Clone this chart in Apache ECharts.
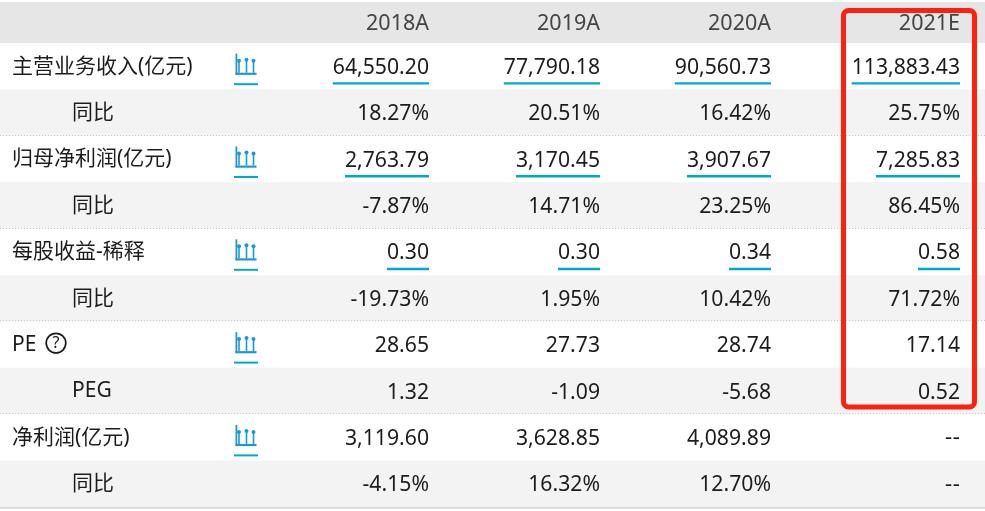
<!DOCTYPE html>
<html>
<head>
<meta charset="utf-8">
<style>
html,body{margin:0;padding:0;background:#fff}
#main{width:985px;height:511px}
</style>
<script src="https://cdn.jsdelivr.net/npm/echarts@6/dist/echarts.min.js"></script>
</head>
<body>
<div id="main"></div>
<script>
var years = ['2018A', '2019A', '2020A', '2021E'];
var rowLabels = ['主营业务收入(亿元)', '同比', '归母净利润(亿元)', '同比', '每股收益-稀释', '同比', 'PE', 'PEG', '净利润(亿元)', '同比'];

var revenue = [64550.20, 77790.18, 90560.73, 113883.43];
var revenueYoy = [18.27, 20.51, 16.42, 25.75];
var parentProfit = [2763.79, 3170.45, 3907.67, 7285.83];
var parentProfitYoy = [-7.87, 14.71, 23.25, 86.45];
var eps = [0.30, 0.30, 0.34, 0.58];
var epsYoy = [-19.73, 1.95, 10.42, 71.72];
var pe = [28.65, 27.73, 28.74, 17.14];
var peg = [1.32, -1.09, -5.68, 0.52];
var netProfit = [3119.60, 3628.85, 4089.89, null];
var netProfitYoy = [-4.15, 16.32, 12.70, null];

var rowValues = [revenue, revenueYoy, parentProfit, parentProfitYoy, eps, epsYoy, pe, peg, netProfit, netProfitYoy];
var percentRows = [1, 3, 5, 9];
var underlinedRows = [0, 2, 4];
var iconRows = [0, 2, 4, 6, 8];
var subRows = [1, 3, 5, 7, 9];

// layout, in x axis units (axis runs 0-985 across the page)
var colRight = [429, 600, 771, 960];
var labelX = 12, subLabelX = 72, iconX = 246;

var FONT = '"Noto Sans","Noto Sans CJK SC",sans-serif';
var TEAL = '#00a9c6', ICON = '#1b98d5';
var TEXT = '#1c1c1c';

function fmt(v, row) {
    if (v === null) return '--';
    var s = echarts.format.addCommas(v.toFixed(2));
    return percentRows.indexOf(row) >= 0 ? s + '%' : s;
}

var cells = [];
rowValues.forEach(function (vals, r) {
    vals.forEach(function (v, c) {
        cells.push({ value: [colRight[c], r], text: fmt(v, r), line: underlinedRows.indexOf(r) >= 0 });
    });
});
var labels = rowLabels.map(function (t, r) {
    return { value: [subRows.indexOf(r) >= 0 ? subLabelX : labelX, r], text: t };
});

function renderBand(params, api) {
    var r = api.value(1);
    var p = api.coord([0, r]), h = api.size([0, 1])[1];
    var kids = [];
    var top = p[1] - h / 2, bot = p[1] + h / 2;
    if (r % 2 === 1) {
        kids.push({ type: 'rect', shape: { x: 0, y: top, width: 985, height: h }, style: { fill: '#f3f3f3' } });
        if (r < 9) {
            kids.push({ type: 'line', shape: { x1: 0, y1: Math.round(bot) - 0.5, x2: 985, y2: Math.round(bot) - 0.5 },
                style: { stroke: '#c8c8c8', lineWidth: 1, lineDash: [1, 2] } });
        }
    }
    return { type: 'group', children: kids };
}

function renderCell(params, api) {
    var cell = cells[params.dataIndex];
    var p = api.coord([api.value(0), api.value(1)]);
    // the dashes of an empty cell are wider in the reference, DejaVu is closest
    var font = cell.text === '--' ? '21px "DejaVu Sans"' : '21.2px ' + FONT;
    var kids = [{ type: 'text', x: p[0], y: p[1] + 1.5,
        style: { text: cell.text, fill: TEXT, font: font, textAlign: 'right', textVerticalAlign: 'middle' } }];
    if (cell.line) {
        var w = echarts.format.getTextRect(cell.text, font).width;
        kids.push({ type: 'rect', shape: { x: p[0] - w, y: p[1] + 16, width: w, height: 2.4 }, style: { fill: TEAL } });
    }
    return { type: 'group', children: kids };
}

function renderLabel(params, api) {
    var item = labels[params.dataIndex];
    var p = api.coord([api.value(0), api.value(1)]);
    var kids = [{ type: 'text', x: p[0], y: p[1] + 0.5,
        style: { text: item.text, fill: TEXT, font: '21px ' + FONT, textAlign: 'left', textVerticalAlign: 'middle' } }];
    if (item.text === 'PE') {
        kids.push({ type: 'circle', shape: { cx: p[0] + 44, cy: p[1] - 1.5, r: 9.8 }, style: { fill: 'none', stroke: TEXT, lineWidth: 1.7 } });
        kids.push({ type: 'text', x: p[0] + 44, y: p[1] - 1,
            style: { text: '?', fill: TEXT, font: '16px ' + FONT, textAlign: 'center', textVerticalAlign: 'middle' } });
    }
    return { type: 'group', children: kids };
}

// small lollipop chart icon with a teal rule under it
function renderIcon(params, api) {
    var p = api.coord([api.value(0), api.value(1)]);
    var x = p[0], y = p[1];
    var kids = [
        { type: 'rect', shape: { x: x - 10.5, y: y - 12.5, width: 1.8, height: 21 }, style: { fill: ICON } },
        { type: 'rect', shape: { x: x - 10.5, y: y + 6.5, width: 21, height: 2.2 }, style: { fill: ICON } },
        { type: 'rect', shape: { x: x - 12, y: y + 17, width: 24, height: 2 }, style: { fill: TEAL } }
    ];
    [[-7, -5.5], [0.5, -6.5], [7.5, -5.5]].forEach(function (d) {
        kids.push({ type: 'rect', shape: { x: x + d[0] - 0.8, y: y + d[1], width: 1.6, height: 12 - (d[1] + 5.5) }, style: { fill: ICON } });
        kids.push({ type: 'circle', shape: { cx: x + d[0], cy: y + d[1], r: 2 }, style: { fill: ICON } });
    });
    return { type: 'group', children: kids };
}

var headerText = years.map(function (y, i) {
    return { type: 'text', z: 3, x: colRight[i], y: 24,
        style: { text: y, fill: '#444', font: '21.5px ' + FONT, textAlign: 'right', textVerticalAlign: 'middle' } };
});

var chart = echarts.init(document.getElementById('main'));
chart.setOption({
    animation: false,
    backgroundColor: '#fff',
    grid: { left: 0, right: 0, top: 43, bottom: 4 },
    xAxis: { type: 'value', min: 0, max: 985, show: false },
    yAxis: { type: 'category', inverse: true, data: rowLabels, show: false },
    graphic: [
        { type: 'rect', z: 1, shape: { x: 0, y: 2, width: 985, height: 41 }, style: { fill: '#e6e6e6' } },
        { type: 'rect', z: 1, shape: { x: 0, y: 507, width: 985, height: 2 }, style: { fill: '#dcdcdc' } }
    ].concat(headerText).concat([
        { type: 'rect', z: 10, shape: { x: 843.5, y: 10.5, width: 131, height: 396.5, r: 5 },
          style: { fill: 'none', stroke: '#ff2010', lineWidth: 5 } }
    ]),
    series: [
        { type: 'custom', z: 1, silent: true, renderItem: renderBand, clip: false,
          data: rowLabels.map(function (t, r) { return [0, r]; }) },
        { type: 'custom', z: 2, silent: true, renderItem: renderLabel,
          data: labels.map(function (d) { return d.value; }) },
        { type: 'custom', z: 2, silent: true, renderItem: renderIcon,
          data: iconRows.map(function (r) { return [iconX, r]; }) },
        { type: 'custom', z: 2, silent: true, renderItem: renderCell,
          data: cells.map(function (d) { return d.value; }) }
    ]
});
</script>
</body>
</html>
